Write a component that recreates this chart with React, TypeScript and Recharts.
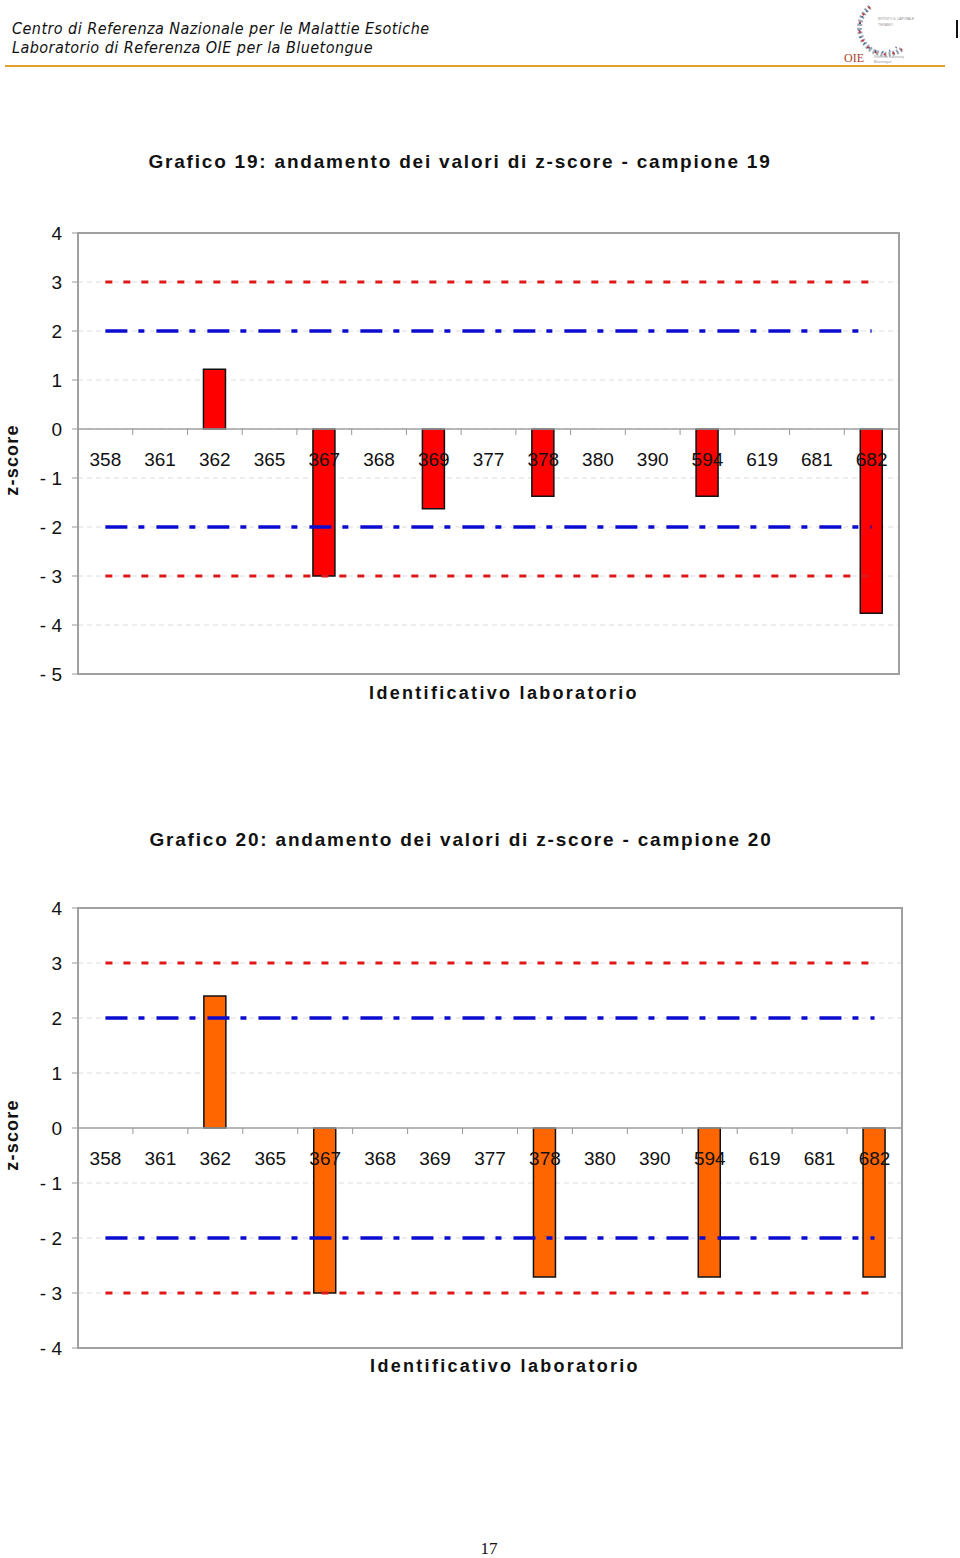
import React from "react";
import {
  BarChart,
  Bar,
  XAxis,
  YAxis,
  CartesianGrid,
  ReferenceLine,
  ReferenceArea,
} from "recharts";

// lab ids on the x axis (same for both charts)
const labs = ["358", "361", "362", "365", "367", "368", "369", "377", "378", "380", "390", "594", "619", "681", "682"];

// z-score per lab, null = no bar
const zScores19 = [null, null, 1.22, null, -3.0, null, -1.63, null, -1.37, null, null, -1.37, null, null, -3.76];
const zScores20 = [null, null, 2.4, null, -3.0, null, null, null, -2.71, null, null, -2.71, null, null, -2.71];

const ticks19 = [4, 3, 2, 1, 0, -1, -2, -3, -4, -5];
const ticks20 = [4, 3, 2, 1, 0, -1, -2, -3, -4];

// warning (blue dash-dot) and action (red dotted) limits
const warnLimits = [2, -2];
const actionLimits = [3, -3];

const FONT = '"Liberation Sans", Arial, sans-serif';

function Txt({ x, y, children, style }: any) {
  return (
    <div
      style={{
        position: "absolute",
        left: x,
        top: y,
        transform: "translate(-50%, -50%)",
        whiteSpace: "nowrap",
        fontFamily: FONT,
        color: "#111",
        ...style,
      }}
    >
      {children}
    </div>
  );
}

interface ChartProps {
  top: number;
  height: number;
  marginRight: number;
  scores: (number | null)[];
  ticks: number[];
  color: string;
}

const Y_AXIS_W = 78;
const M_TOP = 33;
const X_AXIS_H = 30;

function ZChart({ top, height, marginRight, scores, ticks, color }: ChartProps) {
  const width = 960;
  const yMax = ticks[0];
  const yMin = ticks[ticks.length - 1];
  const plotH = height - M_TOP - X_AXIS_H;
  const plotW = width - Y_AXIS_W - marginRight;
  const band = plotW / labs.length;
  const zeroY = M_TOP + (plotH * yMax) / (yMax - yMin);
  const data = labs.map((lab, i) => ({ lab, z: scores[i] }));
  const first = labs[0];
  const last = labs[labs.length - 1];

  const LabTick = (props: any) => {
    const { x, payload } = props;
    const bx = x + band / 2;
    return (
      <g>
        {payload.index < labs.length - 1 && (
          <line x1={bx} x2={bx} y1={zeroY} y2={zeroY + 6} stroke="#999" strokeWidth={1} />
        )}
        <text x={x} y={zeroY + 37} textAnchor="middle" fontSize={19} fontFamily={FONT} fill="#111">
          {payload.value}
        </text>
      </g>
    );
  };

  return (
    <div style={{ position: "absolute", left: 0, top }}>
      <BarChart
        width={width}
        height={height}
        data={data}
        margin={{ top: M_TOP, right: marginRight, bottom: 0, left: 0 }}
        barSize={22}
      >
        <CartesianGrid vertical={false} stroke="#dcdcdc" strokeDasharray="5 4" />
        <XAxis
          dataKey="lab"
          height={X_AXIS_H}
          axisLine={false}
          tickLine={false}
          tickSize={0}
          tickMargin={0}
          interval={0}
          tick={<LabTick />}
        />
        <YAxis
          width={Y_AXIS_W}
          domain={[yMin, yMax]}
          ticks={ticks}
          interval={0}
          axisLine={false}
          tickLine={{ stroke: "#999" }}
          tickSize={6}
          tickMargin={10}
          tickFormatter={(v: number) => (v < 0 ? `- ${Math.abs(v)}` : `${v}`)}
          tick={{ fontSize: 19, fill: "#111", fontFamily: FONT }}
        />
        <ReferenceArea y1={yMin} y2={yMax} fill="none" stroke="#a0a0a0" strokeWidth={2} ifOverflow="visible" />
        <ReferenceLine y={0} stroke="#a0a0a0" strokeWidth={1.5} />
        <Bar dataKey="z" fill={color} stroke="#111" strokeWidth={1.5} isAnimationActive={false} />
        {actionLimits.map((v) => (
          <ReferenceLine
            key={"a" + v}
            segment={[
              { x: first, y: v },
              { x: last, y: v },
            ]}
            stroke="#e01818"
            strokeWidth={3.2}
            strokeDasharray="7 11"
          />
        ))}
        {warnLimits.map((v) => (
          <ReferenceLine
            key={"w" + v}
            segment={[
              { x: first, y: v },
              { x: last, y: v },
            ]}
            stroke="#0c0cd0"
            strokeWidth={3.5}
            strokeDasharray="22 11 6 12"
          />
        ))}
      </BarChart>
    </div>
  );
}

function Logo() {
  return (
    <svg width={100} height={66} style={{ position: "absolute", left: 840, top: 1 }}>
      <path d="M 30 6 A 26 26 0 1 0 62 48" fill="none" stroke="#9aa7b0" strokeWidth={5} strokeDasharray="2 2" />
      <path d="M 30 6 A 26 26 0 1 0 62 48" fill="none" stroke="#c8323c" strokeWidth={2} strokeDasharray="2 7" />
      <path d="M 27 10 A 21 21 0 1 0 58 45" fill="none" stroke="#2a4f8f" strokeWidth={2} strokeDasharray="1 6" />
      <text x={38} y={19} fontSize={4} fill="#888" fontFamily={FONT} textLength={36} lengthAdjust="spacingAndGlyphs">ISTITUTO G. CAPORALE</text>
      <text x={38} y={25} fontSize={3.5} fill="#999" fontFamily={FONT}>TERAMO</text>
      <text x={4} y={61} fontSize={12} fill="#b0402a" fontFamily='"Liberation Serif", serif'>OIE</text>
      <text x={34} y={57} fontSize={3.5} fill="#999" fontFamily={FONT} textLength={30} lengthAdjust="spacingAndGlyphs">Reference Laboratory</text>
      <text x={34} y={62} fontSize={3.5} fill="#999" fontFamily={FONT}>Bluetongue</text>
    </svg>
  );
}

export default function App() {
  const headerFont = {
    fontFamily: '"Liberation Sans Narrow", "DejaVu Sans Condensed", sans-serif',
    fontStyle: "italic",
    fontSize: 16,
    letterSpacing: 0.45,
    color: "#111",
    position: "absolute" as const,
    left: 12,
    whiteSpace: "nowrap" as const,
  };
  const titleStyle = { fontWeight: 700, fontSize: 19, letterSpacing: 1.8 };
  const axisTitleStyle = { fontWeight: 700, fontSize: 18, letterSpacing: 2.3 };
  const yTitleStyle = { fontWeight: 700, fontSize: 18, letterSpacing: 1.2, transform: "translate(-50%, -50%) rotate(-90deg)" };

  return (
    <div style={{ position: "absolute", left: 0, top: 0, width: 960, height: 1558, background: "#fff", overflow: "hidden" }}>
      <div style={{ ...headerFont, top: 19 }}>Centro di Referenza Nazionale per le Malattie Esotiche</div>
      <div style={{ ...headerFont, top: 38 }}>Laboratorio di Referenza OIE per la Bluetongue</div>
      <div style={{ position: "absolute", left: 5, top: 65, width: 940, height: 2, background: "#e0a030" }} />
      <div style={{ position: "absolute", left: 956, top: 20, width: 2, height: 18, background: "#111" }} />
      <Logo />

      <Txt x={460} y={162} style={titleStyle}>Grafico 19: andamento dei valori di z-score - campione 19</Txt>
      <ZChart top={200} height={504} marginRight={61} scores={zScores19} ticks={ticks19} color="#ff0000" />
      <Txt x={504} y={693} style={axisTitleStyle}>Identificativo laboratorio</Txt>
      <Txt x={12} y={460} style={yTitleStyle}>z-score</Txt>

      <Txt x={461} y={840} style={titleStyle}>Grafico 20: andamento dei valori di z-score - campione 20</Txt>
      <ZChart top={875} height={503} marginRight={58} scores={zScores20} ticks={ticks20} color="#ff6600" />
      <Txt x={505} y={1366} style={axisTitleStyle}>Identificativo laboratorio</Txt>
      <Txt x={12} y={1135} style={yTitleStyle}>z-score</Txt>

      <Txt x={489} y={1549} style={{ fontFamily: '"Liberation Serif", serif', fontSize: 17 }}>17</Txt>
    </div>
  );
}
